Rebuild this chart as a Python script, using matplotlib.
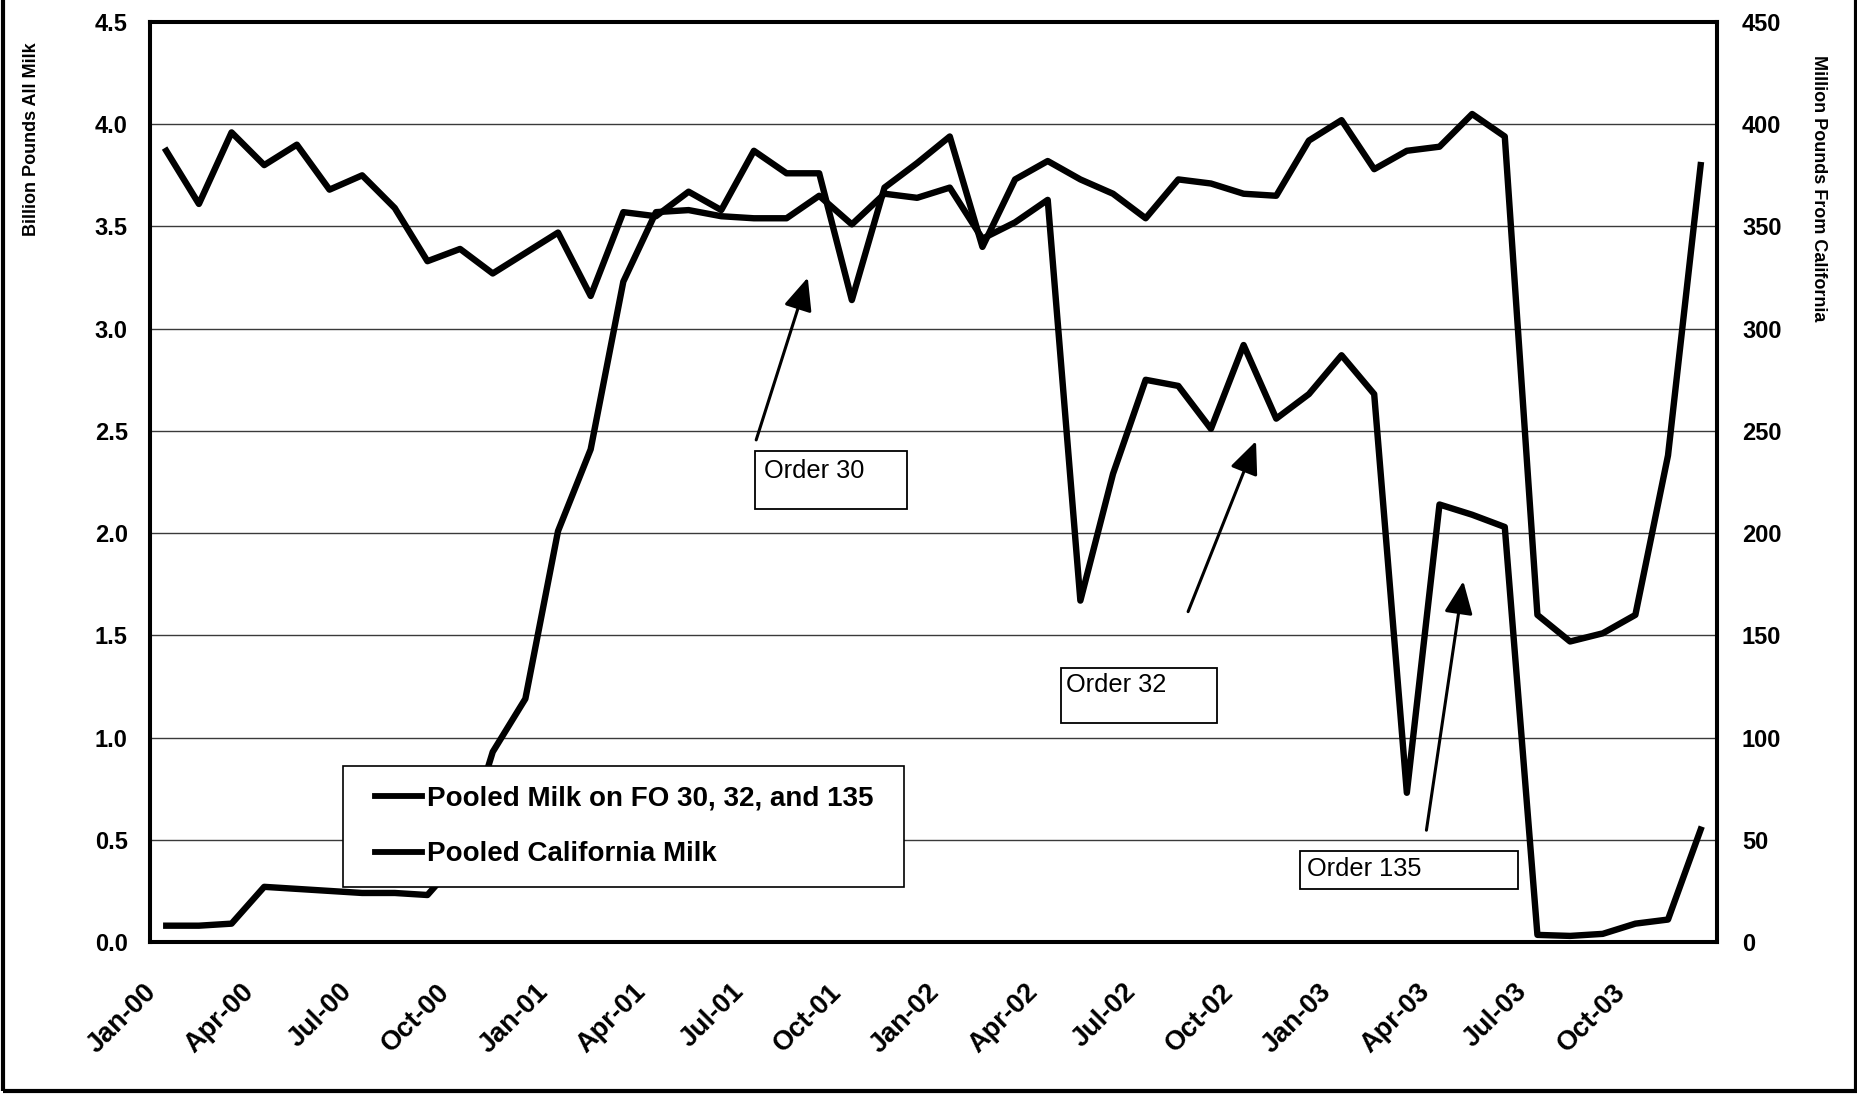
import numpy as np
import matplotlib
matplotlib.use("Agg")
import matplotlib.pyplot as plt
from matplotlib.patches import Rectangle
from matplotlib.lines import Line2D
from matplotlib.legend_handler import HandlerLine2D
from matplotlib.transforms import ScaledTranslation
from matplotlib.font_manager import FontProperties

plt.rcParams['font.family'] = ['Liberation Sans', 'DejaVu Sans']

# ---------------- data ----------------
months = ["Jan", "Feb", "Mar", "Apr", "May", "Jun", "Jul", "Aug", "Sep", "Oct", "Nov", "Dec"]
years = ["00", "01", "02", "03"]
month_labels = [f"{m}-{y}" for y in years for m in months]

# Pooled milk on FO 30, 32 and 135 (billion pounds, left axis)
pooled_fo = [3.87, 3.61, 3.96, 3.80, 3.90, 3.68, 3.75, 3.59, 3.33, 3.39, 3.27, 3.37,
             3.47, 3.16, 3.57, 3.55, 3.67, 3.58, 3.87, 3.76, 3.76, 3.14, 3.69, 3.81,
             3.94, 3.40, 3.73, 3.82, 3.73, 3.66, 3.54, 3.73, 3.71, 3.66, 3.65, 3.92,
             4.02, 3.78, 3.87, 3.89, 4.05, 3.94, 1.60, 1.47, 1.51, 1.60, 2.38, 3.80]

# Pooled California milk (million pounds, right axis)
pooled_ca = [8, 8, 9, 27, 26, 25, 24, 24, 23, 41, 93, 119,
             201, 241, 323, 357, 358, 355, 354, 354, 365, 351, 366, 364,
             369, 344, 352, 363, 167, 229, 275, 272, 251, 292, 256, 268,
             287, 268, 73, 214, 209, 203, 3.5, 3, 4, 9, 11, 55]

tick_step = 3
left_ticks = np.arange(0, 4.51, 0.5)
right_ticks = np.arange(0, 451, 50)
series_names = ["Pooled Milk on FO 30, 32, and 135", "Pooled California Milk"]
order_labels = ["Order 30", "Order 32", "Order 135"]

# ---------------- figure ----------------
fig = plt.figure(figsize=(18.58, 10.94), dpi=100)
ax = fig.add_axes([0.0807, 0.1389, 0.8434, 0.841])
ax2 = ax.twinx()

x = np.arange(len(month_labels))
l1, = ax.plot(x, pooled_fo, color='black', lw=4.6, solid_joinstyle='round', zorder=3)
l2, = ax2.plot(x, pooled_ca, color='black', lw=4.6, solid_joinstyle='round', zorder=3)

ax.set_xlim(-0.5, len(month_labels) - 0.5)
ax.set_ylim(0, 4.5)
ax2.set_ylim(0, 450)

ax.set_yticks(left_ticks)
ax.set_yticklabels([f"{v:.1f}" for v in left_ticks])
ax2.set_yticks(right_ticks)
ax2.set_yticklabels([f"{int(v)}" for v in right_ticks])
ax.set_xticks(x[::tick_step])
ax.set_xticklabels(month_labels[::tick_step])

ax.yaxis.grid(True, color='#3a3a3a', lw=1.0)
ax.set_axisbelow(True)

for a in (ax, ax2):
    for s in a.spines.values():
        s.set_linewidth(2.9)
        s.set_color('black')

ytick_font = FontProperties(family='Liberation Sans', weight='bold', size=17)
xtick_font = FontProperties(family='Liberation Sans', weight='bold', size=19.5)
ax.tick_params(axis='y', length=0, pad=16)
ax2.tick_params(axis='y', length=0, pad=18)
ax.tick_params(axis='x', length=0, pad=33)
for lab in ax.get_yticklabels():
    lab.set_fontproperties(ytick_font)
for lab in ax2.get_yticklabels():
    lab.set_fontproperties(ytick_font)
offset = ScaledTranslation(-14 / 100, 0, fig.dpi_scale_trans)
for lab in ax.get_xticklabels():
    lab.set_fontproperties(xtick_font)
    lab.set_rotation(45)
    lab.set_ha('right')
    lab.set_va('center')
    lab.set_rotation_mode('anchor')
    lab.set_transform(lab.get_transform() + offset)

label_font = FontProperties(family='Liberation Sans', weight='bold', size=13)
ax.set_ylabel("Billion Pounds All Milk", fontproperties=label_font, va='center')
ax.yaxis.set_label_coords(-0.0755, 0.873)
ax2.set_ylabel("Million Pounds From California", fontproperties=label_font,
               rotation=-90, va='center')
ax2.yaxis.set_label_coords(1.065, 0.8196)

# ---------------- annotations ----------------
note_font = FontProperties(family='Liberation Sans', size=18.3)
boxes = [(18.04, 2.117, 4.65, 0.283), (27.4, 1.07, 4.8, 0.27), (34.72, 0.26, 6.68, 0.186)]
text_pos = [(18.3, 2.305), (27.55, 1.255), (34.95, 0.359)]
arrows = [((18.07, 2.456), (19.65, 3.25)), ((31.3, 1.616), (33.38, 2.45)),
          ((38.6, 0.547), (39.73, 1.765))]
for (bx, by, bw, bh), (tx, ty), (tail, head), lab in zip(boxes, text_pos, arrows, order_labels):
    ax.add_patch(Rectangle((bx, by), bw, bh, facecolor='white', edgecolor='black',
                           lw=1.3, zorder=4))
    ax.text(tx, ty, lab, fontproperties=note_font, ha='left', va='center', zorder=5)
    ax.annotate('', xy=head, xytext=tail,
                arrowprops=dict(arrowstyle='-|>,head_length=0.8,head_width=0.35',
                                mutation_scale=25, lw=2.2, color='black',
                                shrinkA=0, shrinkB=0), zorder=5)

# ---------------- legend ----------------
leg_font = FontProperties(family='Liberation Sans', weight='bold', size=20)
leg = ax2.legend([l1, l2], series_names, loc='upper left',
                 bbox_to_anchor=(0.123, 0.064, 0.358, 0.127), mode='expand',
                 borderaxespad=0, frameon=True, fancybox=False, framealpha=1,
                 edgecolor='black', prop=leg_font, handlelength=2.63,
                 handletextpad=-0.29, borderpad=0.69, labelspacing=1.08,
                 handler_map={Line2D: HandlerLine2D(marker_pad=0.47, numpoints=2)})
leg.get_frame().set_linewidth(1.2)
leg.set_zorder(10)
for h in leg.get_lines():
    h.set_linewidth(4.2)

# ---------------- figure border ----------------
fig.add_artist(Rectangle((0.0016, 0.0027), 0.9973, 1.2, transform=fig.transFigure,
                         fill=False, edgecolor='black', lw=3))

fig.savefig('out.png', dpi=100)
